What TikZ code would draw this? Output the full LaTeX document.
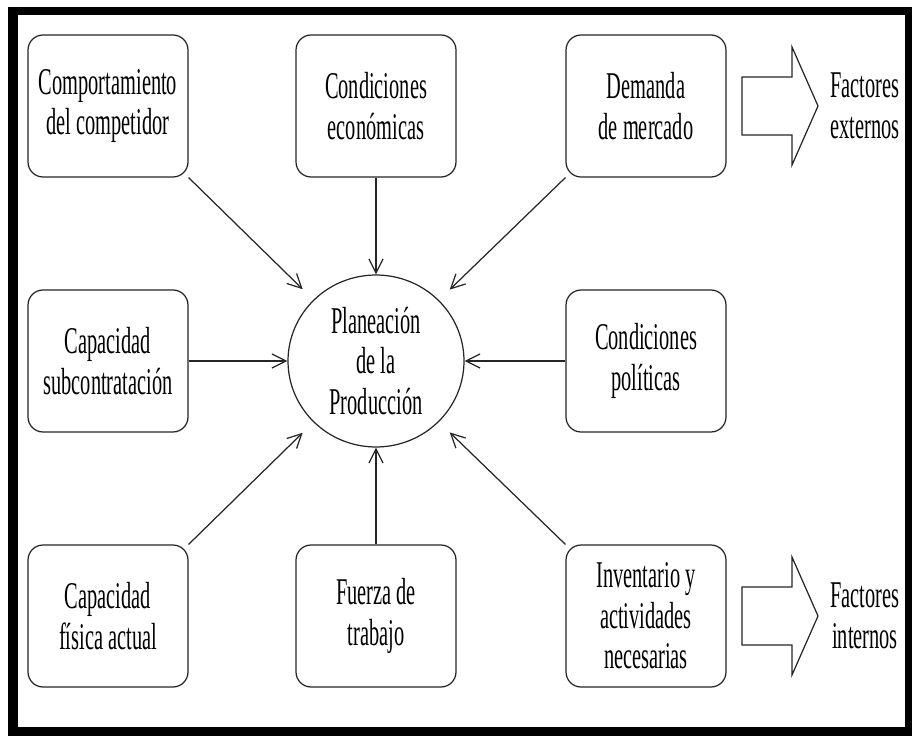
\documentclass[tikz,border=0pt]{standalone}
\usepackage{fontspec}
\setmainfont{Liberation Serif}[FakeStretch=0.54]
\usetikzlibrary{arrows.meta,shapes.geometric}

\tikzset{
  texto/.style={align=center, font=\fontsize{21.5}{23}\selectfont},
  caja/.style={texto, draw=black!85, line width=0.7pt, rounded corners=0.3cm,
    minimum width=3.2cm, minimum height=2.84cm},
  plan/.style={texto, draw=black!85, line width=0.7pt, ellipse, inner sep=0pt,
    minimum width=3.52cm, minimum height=3.44cm},
  flecha/.style={-{Straight Barb[length=8pt,width=8pt]}, draw=black!85, line width=0.7pt},
  bloque/.style={draw=black!85, line width=0.7pt}
}

\begin{document}
\begin{tikzpicture}[x=0.02cm,y=-0.02cm]
  \useasboundingbox (0,0) rectangle (912,736);
  \fill (8,7) rectangle (912,736);
  \fill[white] (18,15) rectangle (905,727);

  \node[caja] (comp) at (108,106) {Comportamiento\\del competidor};
  \node[caja] (econ) at (376,106) {Condiciones\\económicas};
  \node[caja] (dem) at (646,106) {Demanda\\de mercado};
  \node[caja] (sub) at (108,361) {Capacidad\\subcontratación};
  \node[plan] (prod) at (376,361) {Planeación\\de la\\Producción};
  \node[caja] (pol) at (646,361) {Condiciones\\políticas};
  \node[caja] (fis) at (108,616) {Capacidad\\física actual};
  \node[caja] (fza) at (376,616) {Fuerza de\\trabajo};
  \node[caja] (inv) at (646,616) {Inventario y\\actividades\\necesarias};

  \foreach \a in {comp.south east, dem.south west, fis.north east, inv.north west}
    \draw[flecha, shorten >=0.3cm] (\a) -- (prod);
  \foreach \a in {econ, sub, pol, fza}
    \draw[flecha] (\a) -- (prod);

  % flechas grandes
  \foreach \y/\t in {106/externos, 616/internos}{
    \draw[bloque] (742,\y-29) -- (792,\y-29) -- (792,\y-59) -- (818,\y)
      -- (792,\y+59) -- (792,\y+29) -- (742,\y+29) -- cycle;
    \node[texto] (f\t) at (865,\y) {Factores\\\t};
  }
\end{tikzpicture}
\end{document}
